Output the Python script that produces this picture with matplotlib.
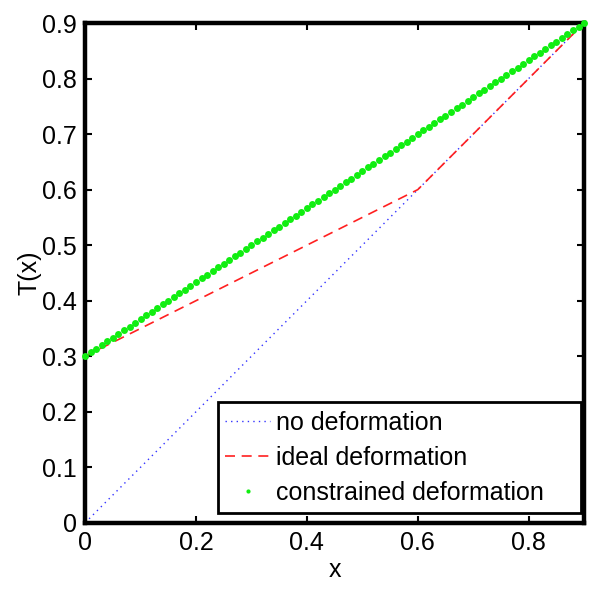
import numpy as np
import matplotlib

matplotlib.use("Agg")
import matplotlib.pyplot as plt
from matplotlib.patches import Rectangle

plt.rcParams["font.family"] = ["Liberation Sans", "DejaVu Sans"]

# data
x_grid = np.linspace(0.0, 0.9, 91)          # 0:0.01:0.9
no_def_x = [0.0, 0.9]
no_def_y = [0.0, 0.9]
ideal_x = [0.0, 0.6, 0.9]
ideal_y = [0.3, 0.6, 0.9]
constr_start, constr_end = 0.3, 0.9

constr_y = np.interp(x_grid, [0.0, 0.9], [constr_start, constr_end])
no_def_line = np.interp(x_grid, no_def_x, no_def_y)
ideal_line = np.interp(x_grid, ideal_x, ideal_y)

fig = plt.figure(figsize=(6.04, 5.92), dpi=100)
ax = fig.add_axes([0.141, 0.117, 0.826, 0.844])

ax.plot(x_grid, no_def_line, linestyle=(0, (1, 3)), color="#3333ff", lw=1.0,
        label="no deformation")
ax.plot(x_grid, ideal_line, linestyle=(0, (6, 4)), color="#ff2020", lw=1.2,
        label="ideal deformation")
ax.plot(x_grid, constr_y, linestyle="none", marker="o", ms=5, mew=0,
        color="#11ee11", label="constrained deformation", clip_on=False, zorder=4)

ax.set_xlim(0, 0.9)
ax.set_ylim(0, 0.9)
ax.set_xticks([0, 0.2, 0.4, 0.6, 0.8])
ax.set_xticklabels(["0", "0.2", "0.4", "0.6", "0.8"])
ax.set_yticks(np.arange(0, 0.91, 0.1))
ax.set_yticklabels(["0"] + [f"{v:.1f}" for v in np.arange(0.1, 0.91, 0.1)])
ax.tick_params(direction="in", top=True, right=True, length=5, width=1.5,
               labelsize=18, pad=6)
for sp in ax.spines.values():
    sp.set_linewidth(3.2)

ax.set_xlabel("x", fontsize=18, labelpad=2)
ax.set_ylabel("T(x)", fontsize=18, labelpad=0)

# MATLAB-style legend box: wider on the right than the entries need
ax.add_patch(Rectangle((0.2665, 0.02), 0.7275, 0.222, transform=ax.transAxes,
                       facecolor="white", edgecolor="black", lw=2, zorder=5))
leg = ax.legend(loc="center left", bbox_to_anchor=(0.2806, 0.13), fontsize=18,
                frameon=False, borderpad=0, labelspacing=0.45, handlelength=1.8,
                handletextpad=0.25, borderaxespad=0, markerscale=0.6)
leg.set_zorder(6)

fig.savefig("out.png", dpi=100)
